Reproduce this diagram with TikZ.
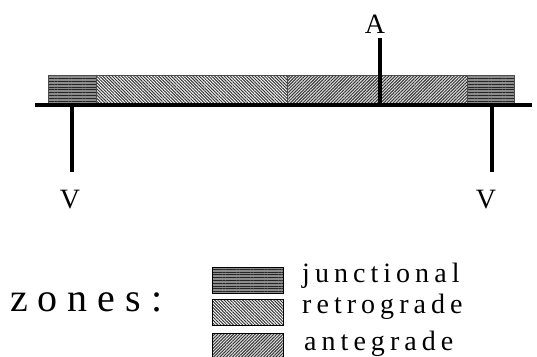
\documentclass[tikz,border=0pt]{standalone}
\usepackage{fontspec}
\setmainfont{Liberation Serif}
\usetikzlibrary{patterns.meta}
\newfontfamily\spacedfont[LetterSpace=18]{Liberation Serif}
\newfontfamily\spacedzfont[LetterSpace=25]{Liberation Serif}
\begin{document}
\begin{tikzpicture}[x=1pt,y=-1pt,
  seg/.style={draw=black!70, line width=0.8pt, inner sep=0pt, anchor=north west, minimum height=28pt},
  legbox/.style={draw=black, line width=1.2pt, inner sep=0pt, anchor=north west, minimum width=71pt, minimum height=26pt},
  junc/.style={preaction={fill=black!45}, pattern={Lines[angle=0,distance=2.8pt,line width=1pt]}, pattern color=black!85},
  retro/.style={preaction={fill=white}, pattern={Lines[angle=-45,distance=2.2pt,line width=1pt]}, pattern color=black!80},
  ante/.style={preaction={fill=black!10}, pattern={Lines[angle=45,distance=2.2pt,line width=1pt]}, pattern color=black!80},
  stem/.style={line width=4pt},
  lbl/.style={font=\fontsize{28}{28}\selectfont, inner sep=0pt, anchor=base},
  legtxt/.style={font=\spacedfont\fontsize{28}{28}\selectfont, inner sep=0pt, anchor=base west},
]
\useasboundingbox (0,0) rectangle (537,356);
% bar
\node[seg, junc, minimum width=48pt] (j1) at (48,75) {};
\node[seg, retro, minimum width=191pt] (r1) at (96,75) {};
\node[seg, ante, minimum width=180pt] (a1) at (287,75) {};
\node[seg, junc, minimum width=47pt] (j2) at (467,75) {};
% axis
\coordinate (bl) at (35,104.5);
\coordinate (br) at (532,104.5);
\draw[stem] (bl) -- (br);
% A stem
\coordinate (atop) at (380,38);
\coordinate (abot) at (380,104);
\draw[stem] (atop) -- (abot);
\node[lbl] (A) at (375,33) {A};
% V stems
\coordinate (v1t) at (72,104);
\coordinate (v1b) at (72,172);
\coordinate (v2t) at (492,104);
\coordinate (v2b) at (492,172);
\draw[stem] (v1t) -- (v1b);
\draw[stem] (v2t) -- (v2b);
\node[lbl] (V1) at (70,208) {V};
\node[lbl] (V2) at (486,208) {V};
% legend
\node[font=\spacedzfont\fontsize{40}{40}\selectfont, inner sep=0pt, anchor=base west] (zones) at (10,311) {zones:};
\node[legbox, junc] (lj) at (212,267) {};
\node[legbox, retro] (lr) at (212,299) {};
\node[legbox, ante] (la) at (212,333) {};
\node[legtxt] (tj) at (302,282) {junctional};
\node[legtxt] (tr) at (302,313) {retrograde};
\node[legtxt] (ta) at (304,350) {antegrade};
\end{tikzpicture}
\end{document}
